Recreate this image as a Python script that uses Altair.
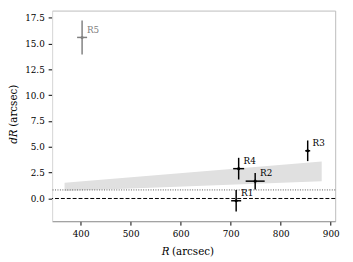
import altair as alt
import pandas as pd

# data
names = ["R1", "R2", "R3", "R4", "R5"]
r_vals = [711, 749, 854, 716, 403]
r_err = [10, 19, 5, 11, 10]
dr_vals = [-0.22, 1.68, 4.62, 2.89, 15.6]
dr_err = [1.05, 0.8, 1.0, 1.05, 1.65]
groups = ["main", "main", "main", "main", "grey"]

band_r = [368, 882]
band_lo = [0.73, 1.68]
band_hi = [1.52, 3.58]

zero_line = [0.0]
dotted_line = [0.83]

x_ticks = [400, 500, 600, 700, 800, 900]
y_ticks = [0.0, 2.5, 5.0, 7.5, 10.0, 12.5, 15.0, 17.5]

FONT = "DejaVu Serif"

pts = pd.DataFrame({
    "name": names, "R": r_vals, "dR": dr_vals, "g": groups,
    "Rlo": [a - b for a, b in zip(r_vals, r_err)],
    "Rhi": [a + b for a, b in zip(r_vals, r_err)],
    "dRlo": [a - b for a, b in zip(dr_vals, dr_err)],
    "dRhi": [a + b for a, b in zip(dr_vals, dr_err)],
})
band = pd.DataFrame({"R": band_r, "lo": band_lo, "hi": band_hi})

xs = alt.Scale(domain=[343, 909], nice=False, zero=False)
ys = alt.Scale(domain=[-2.2, 18.2], nice=False, zero=False)
xaxis = alt.Axis(values=x_ticks, title=None, grid=False, domainColor="#999999", labelPadding=5)
yaxis = alt.Axis(values=y_ticks, format=".1f", title=None, grid=False, domainColor="#dddddd", labelPadding=4)


def X(f):
    return alt.X(f, scale=xs, axis=xaxis)


def Y(f):
    return alt.Y(f, scale=ys, axis=yaxis)


col = alt.Color("g:N", scale=alt.Scale(domain=["main", "grey"], range=["#000000", "#808080"]), legend=None)

band_layer = alt.Chart(band).mark_area(color="#e0e0e0", opacity=1).encode(
    x=X("R:Q"), y=Y("lo:Q"), y2="hi:Q")
zero_layer = alt.Chart(pd.DataFrame({"y": zero_line})).mark_rule(
    color="black", strokeDash=[4, 2], strokeWidth=1).encode(y=Y("y:Q"))
dot_layer = alt.Chart(pd.DataFrame({"y": dotted_line})).mark_rule(
    color="#555555", strokeDash=[1, 1.5], strokeWidth=1).encode(y=Y("y:Q"))

base = alt.Chart(pts)
vbar = base.mark_rule(strokeWidth=1.5).encode(
    x=X("R:Q"), y=Y("dRlo:Q"), y2="dRhi:Q", color=col)
hbar = base.mark_rule(strokeWidth=1.5).encode(
    x=X("Rlo:Q"), x2="Rhi:Q", y=Y("dR:Q"), color=col)
ctr = base.mark_point(filled=True, size=10, opacity=1).encode(
    x=X("R:Q"), y=Y("dR:Q"), color=col)
lbl = base.mark_text(align="left", baseline="middle", dx=5, dy=-8, font=FONT, fontSize=9).encode(
    x=X("R:Q"), y=Y("dR:Q"), text="name:N", color=col)

# axis titles with italic variable names
tx1 = alt.Chart(pd.DataFrame({"t": ["R"]})).mark_text(
    font=FONT, fontSize=10.5, fontStyle="italic", align="left", baseline="middle").encode(
    x=alt.value(112), y=alt.value(246), text="t:N")
tx2 = alt.Chart(pd.DataFrame({"t": ["(arcsec)"]})).mark_text(
    font=FONT, fontSize=10.5, align="left", baseline="middle").encode(
    x=alt.value(122.5), y=alt.value(246), text="t:N")
ty1 = alt.Chart(pd.DataFrame({"t": ["dR"]})).mark_text(
    font=FONT, fontSize=10.5, fontStyle="italic", align="left", baseline="middle", angle=270).encode(
    x=alt.value(-39), y=alt.value(136), text="t:N")
ty2 = alt.Chart(pd.DataFrame({"t": ["(arcsec)"]})).mark_text(
    font=FONT, fontSize=10.5, align="left", baseline="middle", angle=270).encode(
    x=alt.value(-39), y=alt.value(118.5), text="t:N")

chart = alt.layer(band_layer, zero_layer, dot_layer, vbar, hbar, ctr, lbl, tx1, tx2, ty1, ty2).properties(
    width=289, height=215,
    autosize=alt.AutoSizeParams(type="none"),
    padding={"left": 45, "top": 0, "right": 10, "bottom": 39},
).configure_view(stroke="#bbbbbb", strokeWidth=1).configure_axis(
    tickColor="black", tickSize=4, labelFont=FONT, labelFontSize=9,
    labelColor="black", labelOverlap=False, labelFlush=False,
).configure_text(font=FONT)

chart.save("out.html", embed_options={"renderer": "svg", "actions": False})
